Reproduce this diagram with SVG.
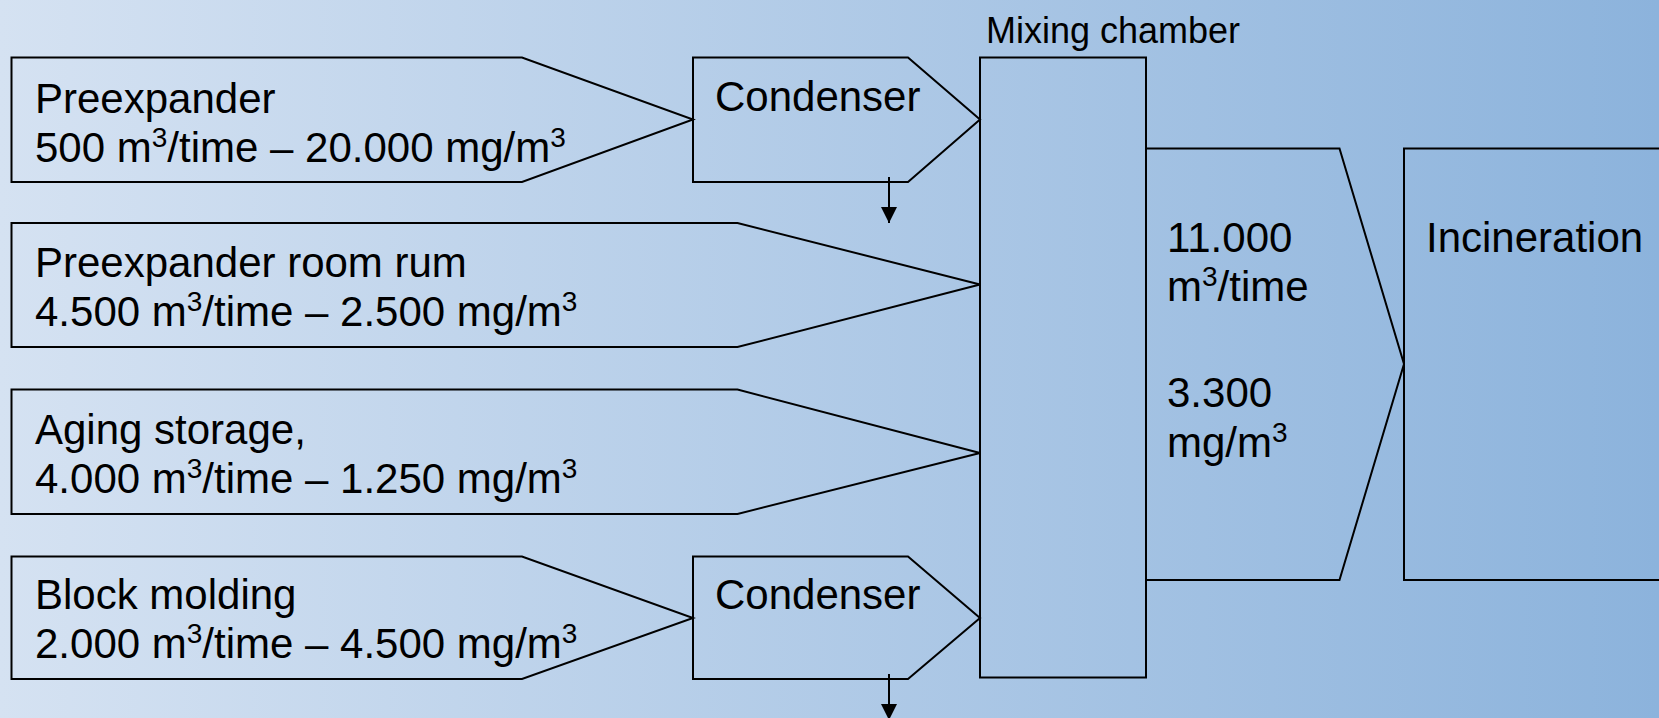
<svg xmlns="http://www.w3.org/2000/svg" width="1659" height="718" viewBox="0 0 1659 718">
<style>
.s{fill:none;stroke:#000;stroke-width:2;stroke-linejoin:miter}
.t{font-family:"Liberation Sans",Arial,sans-serif;font-size:42px;fill:#000}
.sm{font-family:"Liberation Sans",Arial,sans-serif;font-size:36px;fill:#000}
.ln{stroke:#000;stroke-width:2}
</style>
<defs>
<linearGradient id="bg" x1="0" y1="0" x2="1" y2="0">
<stop offset="0" stop-color="#d5e2f2"/>
<stop offset="1" stop-color="#8cb3dc"/>
</linearGradient>
<marker id="ah2" viewBox="0 0 16 16" refX="16" refY="8" markerWidth="16" markerHeight="16" markerUnits="userSpaceOnUse" orient="auto">
<path d="M0,0 L16,8 L0,16 z" fill="#000"/>
</marker>
</defs>
<rect x="0" y="0" width="1659" height="718" fill="url(#bg)"/>

<g id="preexpander">
<path class="s" d="M11.5,57.5 H522 L693,119.5 L522,182 H11.5 Z"/>
<text class="t" x="35" y="113">Preexpander</text>
<text class="t" x="35" y="162">500 m<tspan font-size="28" dy="-15">3</tspan><tspan dy="15">/time – 20.000 mg/m</tspan><tspan font-size="28" dy="-15">3</tspan></text>
</g>

<g id="condenser1">
<path class="s" d="M693,57.5 H908 L980,119.5 L908,182 H693 Z"/>
<text class="t" x="715" y="111">Condenser</text>
</g>

<g id="preexpander-room">
<path class="s" d="M11.5,223 H737.5 L980,284.5 L737.5,347 H11.5 Z"/>
<text class="t" x="35" y="277">Preexpander room rum</text>
<text class="t" x="35" y="326">4.500 m<tspan font-size="28" dy="-15">3</tspan><tspan dy="15">/time – 2.500 mg/m</tspan><tspan font-size="28" dy="-15">3</tspan></text>
</g>

<g id="aging-storage">
<path class="s" d="M11.5,389.5 H737.5 L980,453 L737.5,514 H11.5 Z"/>
<text class="t" x="35" y="444">Aging storage,</text>
<text class="t" x="35" y="493">4.000 m<tspan font-size="28" dy="-15">3</tspan><tspan dy="15">/time – 1.250 mg/m</tspan><tspan font-size="28" dy="-15">3</tspan></text>
</g>

<g id="block-molding">
<path class="s" d="M11.5,556.5 H522 L693,618 L522,679 H11.5 Z"/>
<text class="t" x="35" y="609">Block molding</text>
<text class="t" x="35" y="658">2.000 m<tspan font-size="28" dy="-15">3</tspan><tspan dy="15">/time – 4.500 mg/m</tspan><tspan font-size="28" dy="-15">3</tspan></text>
</g>

<g id="condenser2">
<path class="s" d="M693,556.5 H908 L980,618 L908,679 H693 Z"/>
<text class="t" x="715" y="609">Condenser</text>
</g>

<g id="mixing-chamber">
<rect class="s" x="980" y="57.5" width="166" height="620"/>
<text class="sm" x="986" y="43">Mixing chamber</text>
</g>

<g id="output-flow">
<path class="s" d="M1146,148.5 H1339.5 L1404,364 L1339.5,580 H1146 Z"/>
<text class="t" x="1167" y="252">11.000</text>
<text class="t" x="1167" y="301">m<tspan font-size="28" dy="-15">3</tspan><tspan dy="15">/time</tspan></text>
<text class="t" x="1167" y="407">3.300</text>
<text class="t" x="1167" y="457">mg/m<tspan font-size="28" dy="-15">3</tspan></text>
</g>

<g id="incineration">
<rect class="s" x="1404" y="148.5" width="280" height="431.5"/>
<text class="t" x="1426" y="252">Incineration</text>
</g>

<g id="connectors">
<line class="ln" x1="889" y1="177" x2="889" y2="223" marker-end="url(#ah2)"/>
<line class="ln" x1="889" y1="674" x2="889" y2="720" marker-end="url(#ah2)"/>
</g>
</svg>
